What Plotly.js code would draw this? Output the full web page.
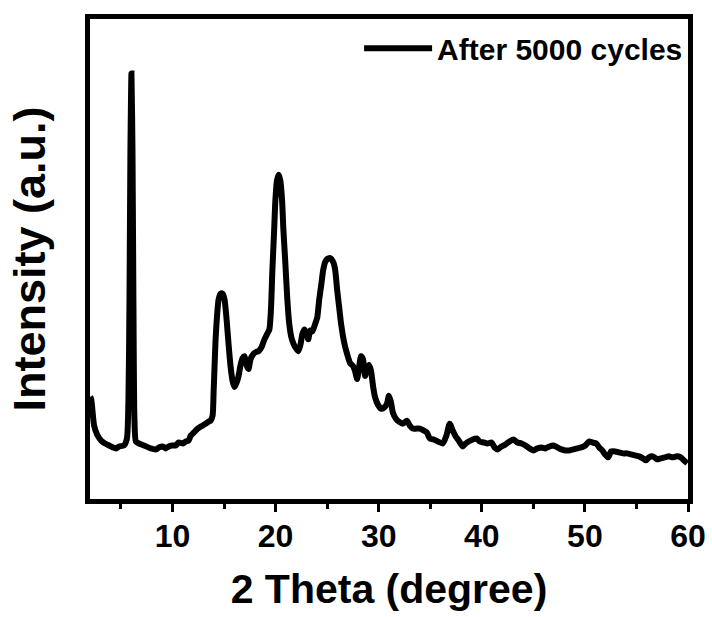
<!DOCTYPE html>
<html>
<head>
<meta charset="utf-8">
<script src="https://cdn.plot.ly/plotly-3.0.1.min.js"></script>
<style>html,body{margin:0;padding:0;background:#fff;}#chart{width:712px;height:617px;}</style>
</head>
<body>
<div id="chart"></div>
<script>
// 2θ (degree) values
const twoTheta = [2.01,2.11,2.40,2.69,3.07,3.46,3.85,4.23,4.52,4.81,5.29,5.58,5.73,5.83,5.92,6.02,6.12,6.21,6.31,6.45,6.74,7.23,7.90,8.39,8.68,9.06,9.35,9.64,9.93,10.32,10.61,11.00,11.29,11.57,11.77,11.96,12.25,12.44,12.73,12.93,13.22,13.51,13.70,13.89,13.99,14.09,14.18,14.33,14.47,14.67,14.86,15.05,15.25,15.44,15.63,15.83,16.02,16.21,16.41,16.60,16.79,16.99,17.18,17.37,17.57,17.76,18.05,18.34,18.63,18.92,19.21,19.40,19.55,19.69,19.84,19.98,20.13,20.30,20.46,20.63,20.75,20.94,21.14,21.33,21.53,21.72,21.91,22.20,22.40,22.59,22.79,22.98,23.17,23.36,23.56,23.85,24.04,24.23,24.43,24.62,24.81,25.01,25.30,25.59,25.78,25.97,26.17,26.36,26.65,26.94,27.23,27.52,27.71,27.91,28.10,28.29,28.48,28.68,28.87,29.06,29.26,29.45,29.64,29.93,30.22,30.51,30.80,30.99,31.18,31.38,31.67,31.96,32.35,32.73,33.02,33.31,33.70,33.99,34.38,34.67,34.96,35.34,35.73,36.22,36.57,36.89,37.18,37.47,37.76,38.14,38.43,38.72,39.11,39.50,39.79,40.17,40.56,40.95,41.24,41.53,41.91,42.30,42.69,43.08,43.46,43.85,44.24,44.62,45.01,45.40,45.78,46.17,46.56,46.94,47.33,47.72,48.10,48.49,48.88,49.26,49.65,50.04,50.42,50.71,51.10,51.39,51.68,51.96,52.25,52.54,52.93,53.31,53.70,54.09,54.47,54.86,55.25,55.63,55.92,56.21,56.60,56.99,57.37,57.76,58.14,58.53,58.92,59.30,59.59,59.93];
// Intensity (a.u.) values
const intensity = [103,101,74,65,59,56,54,52,51,53,54,61,101,201,351,429,351,201,81,58,56,54,51,50,52,53,51,53,54,54,57,56,58,59,64,66,69,71,73,74,76,78,79,84,108,136,161,186,201,207,207,201,181,156,134,119,113,117,124,135,142,144,135,131,141,145,148,149,153,161,167,171,191,231,266,301,321,327,321,301,273,239,201,176,163,157,153,149,155,166,171,168,161,170,169,177,183,201,216,231,239,242,243,239,231,211,193,176,158,146,137,134,129,121,133,144,141,124,131,135,129,114,103,95,91,92,96,104,98,87,81,78,76,79,74,71,71,71,69,67,61,60,58,56,64,76,69,63,59,53,56,58,60,61,58,57,56,57,52,50,53,55,58,60,57,56,54,51,49,51,52,51,53,54,52,50,49,49,50,51,52,54,58,57,56,52,49,45,42,48,48,47,46,46,45,44,43,41,39,42,43,40,41,42,43,42,43,42,39,36];
const seriesName = 'After 5000 cycles';
const xTickVals = [10,20,30,40,50,60];
const xTickText = ['10','20','30','40','50','60'];

const FONT = 'Liberation Sans, Arial, Helvetica, sans-serif';

const trace = {
  x: twoTheta, y: intensity, type: 'scatter', mode: 'lines', name: seriesName,
  line: {color: '#000000', width: 6, shape: 'spline', smoothing: 0.6}
};

const layout = {
  width: 712, height: 617,
  margin: {l: 90, r: 24, t: 19, b: 118},
  paper_bgcolor: '#ffffff', plot_bgcolor: '#ffffff',
  showlegend: true,
  legend: {
    x: 0.45, y: 0.993, xanchor: 'left', yanchor: 'top',
    bgcolor: 'rgba(0,0,0,0)', borderwidth: 0,
    itemwidth: 68,
    font: {family: FONT, size: 30, color: '#000', weight: 700}
  },
  xaxis: {
    range: [2, 60], showgrid: false, zeroline: false,
    showline: true, linewidth: 5, linecolor: '#000', mirror: true,
    ticks: 'outside', ticklen: 8, tickwidth: 3, tickcolor: '#000',
    ticklabelstandoff: -3,
    tickvals: xTickVals, ticktext: xTickText,
    minor: {ticks: 'outside', ticklen: 5, tickwidth: 3, tickcolor: '#000', dtick: 5, tick0: 0, showgrid: false},
    tickfont: {family: FONT, size: 32, color: '#000', weight: 700},
    title: {text: '2 Theta (degree)', font: {family: FONT, size: 41, color: '#000', weight: 700}, standoff: 22}
  },
  yaxis: {
    range: [0, 484], showgrid: false, zeroline: false,
    showline: true, linewidth: 5, linecolor: '#000', mirror: true,
    ticks: '', showticklabels: false,
    title: {text: 'Intensity (a.u.)', font: {family: FONT, size: 45, color: '#000', weight: 700}, standoff: 27}
  }
};

Plotly.newPlot('chart', [trace], layout, {displayModeBar: false, staticPlot: true});
</script>
</body>
</html>
